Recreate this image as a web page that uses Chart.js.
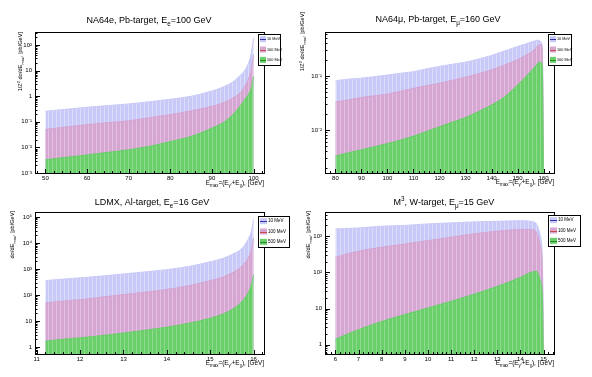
<!DOCTYPE html>
<html>
<head>
<meta charset="utf-8">
<script src="https://cdn.jsdelivr.net/npm/chart.js@4.4.1/dist/chart.umd.min.js"></script>
<style>
  body { margin: 0; background: #fff; }
  #wrap { position: relative; width: 592px; height: 377px; }
  canvas { position: absolute; }
</style>
</head>
<body>
<div id="wrap">
  <canvas id="c1" width="296" height="188" style="left:0;top:0"></canvas>
  <canvas id="c2" width="296" height="188" style="left:296px;top:0"></canvas>
  <canvas id="c3" width="296" height="189" style="left:0;top:188px"></canvas>
  <canvas id="c4" width="296" height="189" style="left:296px;top:188px"></canvas>
</div>
<script>
const seriesNames = ["10 MeV", "100 MeV", "500 MeV"];

// NA64e, Pb-target, Ee = 100 GeV
const na64eX = [50, 55, 60, 65, 70, 75, 80, 85, 90, 93, 95, 97, 98, 99, 99.5, 100];
const na64e10 = [0.26, 0.31, 0.37, 0.43, 0.50, 0.61, 0.76, 1.0, 1.6, 2.4, 3.6, 7, 11, 25, 55, 185];
const na64e100 = [0.051, 0.063, 0.078, 0.093, 0.11, 0.145, 0.19, 0.27, 0.40, 0.58, 0.85, 1.5, 2.6, 6, 12.6, 42];
const na64e500 = [0.0033, 0.0041, 0.0051, 0.0064, 0.0081, 0.011, 0.017, 0.027, 0.057, 0.10, 0.19, 0.47, 0.8, 1.4, 2.2, 5.9];

// NA64mu, Pb-target, Emu = 160 GeV
const na64muX = [80, 85, 90, 95, 100, 105, 110, 115, 120, 125, 130, 135, 140, 145, 150, 153, 155, 157, 158, 159, 159.5, 160];
const na64mu10 = [0.082, 0.087, 0.091, 0.097, 0.104, 0.112, 0.12, 0.135, 0.15, 0.165, 0.18, 0.205, 0.24, 0.29, 0.35, 0.39, 0.42, 0.45, 0.46, 0.43, 0.33, 0.001];
const na64mu100 = [0.033, 0.036, 0.040, 0.043, 0.046, 0.052, 0.059, 0.066, 0.073, 0.083, 0.095, 0.11, 0.13, 0.16, 0.20, 0.24, 0.27, 0.33, 0.37, 0.38, 0.3, 0.001];
const na64mu500 = [0.0033, 0.0038, 0.0043, 0.0049, 0.0056, 0.0065, 0.0077, 0.0094, 0.0115, 0.014, 0.017, 0.022, 0.029, 0.041, 0.068, 0.095, 0.12, 0.155, 0.175, 0.18, 0.15, 0.001];

// LDMX, Al-target, Ee = 16 GeV
const ldmxX = [11.2, 11.5, 12, 12.5, 13, 13.5, 14, 14.5, 15, 15.3, 15.5, 15.7, 15.8, 15.9, 15.95, 16];
const ldmx10 = [360, 400, 460, 540, 650, 780, 950, 1250, 1900, 2600, 3600, 5600, 8700, 17000, 28000, 80000];
const ldmx100 = [50, 57, 67, 84, 105, 130, 165, 230, 360, 500, 710, 1150, 1700, 3200, 5600, 15500];
const ldmx500 = [1.7, 1.95, 2.3, 2.8, 3.5, 4.5, 5.9, 8.3, 13, 19, 28, 50, 78, 150, 250, 620];

// M3, W-target, Emu = 15 GeV
const m3X = [6, 6.5, 7, 7.5, 8, 9, 10, 11, 12, 13, 14, 14.5, 14.7, 14.85, 14.95, 15];
const m310 = [1600, 1650, 1700, 1800, 1900, 2000, 2200, 2350, 2500, 2600, 2700, 2550, 2150, 1100, 200, 0.1];
const m3100 = [263, 325, 385, 445, 500, 610, 760, 940, 1170, 1380, 1530, 1530, 1250, 590, 87, 0.1];
const m3500 = [1.4, 1.95, 2.6, 3.4, 4.4, 6.8, 10.4, 15.8, 25, 41, 73, 103, 107, 63, 20, 0.1];

const fillColours = ["#c9c9f7", "#d6a6d3", "#6acf6a"];
const binLineColours = ["#dcdcfb", "#e4c0e1", "#8fdc8f"];
const lineColours = ["#3434b0", "#d04848", "#1f8f1f"];
const FAMILY = "'Liberation Sans', Arial, Helvetica, sans-serif";

const SUP = { "-": "\u207B", "0": "\u2070", "1": "\u00B9", "2": "\u00B2", "3": "\u00B3", "4": "\u2074", "5": "\u2075" };

function powerLabel(v) {
  const e = Math.round(Math.log10(v));
  if (e === 0) return "1";
  if (e === 1) return "10";
  return "10" + String(e).split("").map((c) => SUP[c]).join("");
}

// histogram-like fill: solid colour with faint bin edges
function binPattern(base, edge) {
  const c = document.createElement("canvas");
  c.width = 4;
  c.height = 4;
  const g = c.getContext("2d");
  g.fillStyle = base;
  g.fillRect(0, 0, 4, 4);
  g.fillStyle = edge;
  g.fillRect(0, 0, 1, 4);
  return g.createPattern(c, "repeat");
}

// text with sub/superscripts, parts = [[text, kind]], kind "" | "_" | "^"
function drawRich(ctx, parts, x, y, size, align) {
  let width = 0;
  parts.forEach((p) => {
    ctx.font = (p[1] ? size * 0.7 : size) + "px " + FAMILY;
    width += ctx.measureText(p[0]).width;
  });
  let cx = x;
  if (align === "center") cx = x - width / 2;
  if (align === "right") cx = x - width;
  ctx.textAlign = "left";
  ctx.textBaseline = "alphabetic";
  parts.forEach((p) => {
    ctx.font = (p[1] ? size * 0.7 : size) + "px " + FAMILY;
    let dy = 0;
    if (p[1] === "_") dy = size * 0.3;
    if (p[1] === "^") dy = -size * 0.42;
    ctx.fillText(p[0], cx, y + dy);
    cx += ctx.measureText(p[0]).width;
  });
}

const xTitle = [["E", ""], ["max", "_"], ["=(E", ""], ["\u03B3'", "_"], ["+E", ""], ["\u03C7", "_"], ["), [GeV]", ""]];

const rootStyle = {
  id: "rootStyle",
  afterDraw(chart, args, opts) {
    const ctx = chart.ctx;
    const a = chart.chartArea;
    const xs = chart.scales.x;
    const ys = chart.scales.y;
    ctx.save();
    ctx.strokeStyle = "#000";
    ctx.lineWidth = 1;
    ctx.strokeRect(Math.round(a.left) + 0.5, Math.round(a.top) + 0.5,
      Math.round(a.right - a.left), Math.round(a.bottom - a.top));

    // ticks inside the frame, like ROOT
    ctx.beginPath();
    const n0 = Math.ceil(xs.min / opts.xMinor - 1e-9);
    const n1 = Math.floor(xs.max / opts.xMinor + 1e-9);
    for (let n = n0; n <= n1; n++) {
      const v = n * opts.xMinor;
      const q = v / opts.xMajor;
      const major = Math.abs(q - Math.round(q)) < 1e-6;
      const px = Math.round(xs.getPixelForValue(v)) + 0.5;
      ctx.moveTo(px, a.bottom);
      ctx.lineTo(px, a.bottom - (major ? 4 : 2));
    }
    const e0 = Math.floor(Math.log10(ys.min));
    const e1 = Math.ceil(Math.log10(ys.max));
    for (let e = e0; e <= e1; e++) {
      for (let m = 1; m <= 9; m++) {
        const v = m * Math.pow(10, e);
        if (v < ys.min || v > ys.max) continue;
        const py = Math.round(ys.getPixelForValue(v)) + 0.5;
        ctx.moveTo(a.left, py);
        ctx.lineTo(a.left + (m === 1 ? 5 : 2.5), py);
      }
    }
    ctx.stroke();

    ctx.fillStyle = "#000";
    drawRich(ctx, opts.title, opts.titleX, opts.titleY, 9, "center");
    drawRich(ctx, xTitle, a.right, opts.xTitleY, 6.4, "right");
    ctx.save();
    ctx.translate(opts.yTitleX, opts.yTitleTop);
    ctx.rotate(-Math.PI / 2);
    drawRich(ctx, opts.yTitle, 0, 2, 5.6, "right");
    ctx.restore();

    // legend box
    const lg = opts.legend;
    ctx.fillStyle = "#fff";
    ctx.fillRect(lg.x, lg.y, lg.w, lg.h);
    ctx.strokeStyle = "#000";
    ctx.strokeRect(lg.x + 0.5, lg.y + 0.5, lg.w, lg.h);
    chart.data.datasets.forEach((ds, i) => {
      const cy = lg.y + (lg.h * (i + 0.5)) / 3;
      ctx.fillStyle = fillColours[i];
      ctx.fillRect(lg.x + 2, cy - 3, lg.sym, 6);
      ctx.strokeStyle = lineColours[i];
      ctx.beginPath();
      ctx.moveTo(lg.x + 2, Math.round(cy) + 0.5);
      ctx.lineTo(lg.x + 2 + lg.sym, Math.round(cy) + 0.5);
      ctx.stroke();
      ctx.fillStyle = "#000";
      ctx.font = lg.font + "px " + FAMILY;
      ctx.textAlign = "left";
      ctx.textBaseline = "middle";
      ctx.fillText(ds.label, lg.x + lg.sym + 3, cy);
    });
    ctx.restore();
  },
};

const panels = [
  {
    id: "c1", H: 188, x: na64eX, ys: [na64e10, na64e100, na64e500],
    frame: { l: 35, t: 32, r: 264, b: 173 },
    xMin: 47.5, xMax: 102.5, xMajor: 10, xMinor: 2, yMin: 1e-3, yMax: 324,
    title: [["NA64e, Pb-target, E", ""], ["e", "_"], ["=100 GeV", ""]], titleX: 149, titleY: 23,
    yTitle: [["1/Z", ""], ["2", "^"], [" d\u03C3/dE", ""], ["max", "_"], [", [pb/GeV]", ""]], yTitleX: 20, yTitleTop: 32,
    xTitleY: 185, legend: { x: 258, y: 34, w: 22, h: 31, sym: 6, font: 3.8 },
  },
  {
    id: "c2", H: 188, x: na64muX, ys: [na64mu10, na64mu100, na64mu500],
    frame: { l: 29, t: 32, r: 258, b: 173 },
    xMin: 76, xMax: 164, xMajor: 10, xMinor: 2, yMin: 0.0016, yMax: 0.65,
    title: [["NA64\u03BC, Pb-target, E", ""], ["\u03BC", "_"], ["=160 GeV", ""]], titleX: 142, titleY: 22,
    yTitle: [["1/Z", ""], ["2", "^"], [" d\u03C3/dE", ""], ["max", "_"], [", [pb/GeV]", ""]], yTitleX: 6, yTitleTop: 12,
    xTitleY: 184, legend: { x: 252, y: 34, w: 23, h: 31, sym: 6, font: 3.8 },
  },
  {
    id: "c3", H: 189, x: ldmxX, ys: [ldmx10, ldmx100, ldmx500],
    frame: { l: 35, t: 24, r: 264, b: 166 },
    xMin: 10.96, xMax: 16.24, xMajor: 1, xMinor: 0.2, yMin: 0.55, yMax: 155000,
    title: [["LDMX, Al-target, E", ""], ["e", "_"], ["=16 GeV", ""]], titleX: 152, titleY: 17,
    yTitle: [["d\u03C3/dE", ""], ["max", "_"], [", [pb/GeV]", ""]], yTitleX: 12, yTitleTop: 23,
    xTitleY: 177, legend: { x: 258, y: 28, w: 31, h: 31, sym: 7, font: 4.5 },
  },
  {
    id: "c4", H: 189, x: m3X, ys: [m310, m3100, m3500],
    frame: { l: 29, t: 24, r: 258, b: 166 },
    xMin: 5.55, xMax: 15.45, xMajor: 1, xMinor: 0.2, yMin: 0.55, yMax: 4700,
    title: [["M", ""], ["3", "^"], [", W-target, E", ""], ["\u03BC", "_"], ["=15 GeV", ""]], titleX: 148, titleY: 17,
    yTitle: [["d\u03C3/dE", ""], ["max", "_"], [", [pb/GeV]", ""]], yTitleX: 12, yTitleTop: 23,
    xTitleY: 177, legend: { x: 252, y: 27, w: 32, h: 31, sym: 7, font: 4.5 },
  },
];

function decades(min, max) {
  const out = [];
  for (let e = Math.floor(Math.log10(min)); e <= Math.ceil(Math.log10(max)); e++) {
    const v = Math.pow(10, e);
    if (v >= min * 0.999 && v <= max * 1.001) out.push({ value: v });
  }
  return out;
}

panels.forEach((p) => {
  const W = 296;
  const datasets = p.ys.map((ys, i) => ({
    label: seriesNames[i],
    data: p.x.map((x, j) => ({ x: x, y: ys[j] })),
    backgroundColor: binPattern(fillColours[i], binLineColours[i]),
    borderColor: fillColours[i],
    borderWidth: 1,
    pointRadius: 0,
    fill: "start",
    cubicInterpolationMode: "monotone",
    order: 3 - i,
  }));

  new Chart(document.getElementById(p.id), {
    type: "line",
    data: { datasets: datasets },
    options: {
      responsive: false,
      animation: false,
      devicePixelRatio: 1,
      layout: { padding: { top: p.frame.t, right: W - p.frame.r, left: 0, bottom: 0 } },
      plugins: {
        legend: { display: false },
        tooltip: { enabled: false },
        rootStyle: p,
      },
      scales: {
        x: {
          type: "linear",
          min: p.xMin,
          max: p.xMax,
          grid: { display: false, drawTicks: false },
          border: { display: false },
          ticks: {
            stepSize: p.xMajor,
            includeBounds: false,
            autoSkip: false,
            maxRotation: 0,
            padding: 2,
            color: "#000",
            font: { size: 6, family: FAMILY },
            callback: (v) => String(+v.toFixed(3)),
          },
          afterFit: (s) => { s.height = p.H - p.frame.b; },
        },
        y: {
          type: "logarithmic",
          min: p.yMin,
          max: p.yMax,
          grid: { display: false, drawTicks: false },
          border: { display: false },
          afterBuildTicks: (s) => { s.ticks = decades(p.yMin, p.yMax); },
          ticks: {
            autoSkip: false,
            padding: 3,
            color: "#000",
            font: { size: 6, family: FAMILY },
            callback: (v) => powerLabel(v),
          },
          afterFit: (s) => { s.width = p.frame.l; },
        },
      },
    },
    plugins: [rootStyle],
  });
});
</script>
</body>
</html>
